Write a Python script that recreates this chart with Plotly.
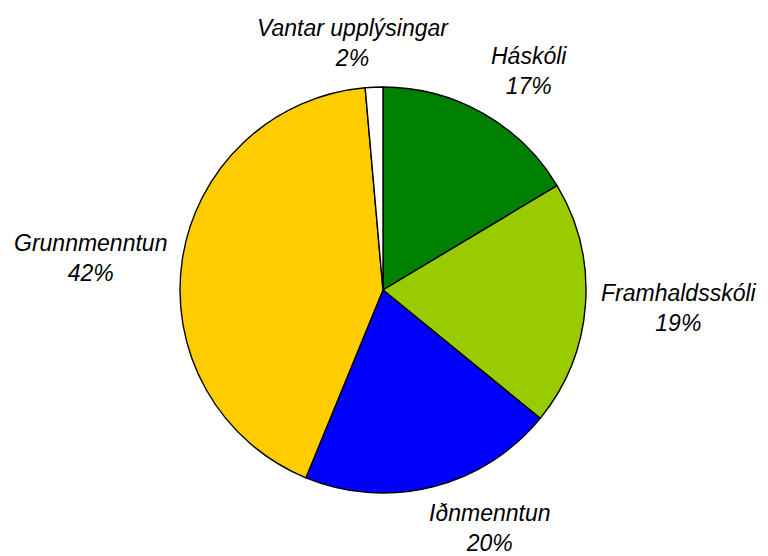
import math
import plotly.graph_objects as go

# Data
categories = ["Háskóli", "Framhaldsskóli", "Iðnmenntun", "Grunnmenntun", "Vantar upplýsingar"]
shares = [16.4, 19.5, 20.3, 42.4, 1.4]
pct_labels = ["17%", "19%", "20%", "42%", "2%"]

# Style
colors = ["#008000", "#99CC00", "#0000FF", "#FFCC00", "#FFFFFF"]
W, H = 768, 556
cx, cy, R = 383, 290, 203  # pie centre / radius in pixels
# label offsets (pixels, screen) from the slice's mid-angle point on the rim
label_offsets = [(46, -42), (94, 3), (57, 41), (-92, -2), (-21, -44)]
font_family = "Liberation Sans, Arial, sans-serif"
font_size = 23

fig = go.Figure(go.Pie(
    labels=categories,
    values=shares,
    sort=False,
    direction="clockwise",
    rotation=0,
    marker=dict(colors=colors, line=dict(color="#000000", width=1.4)),
    textinfo="none",
    hoverinfo="label+percent",
    showlegend=False,
    domain=dict(x=[(cx - R) / W, (cx + R) / W], y=[1 - (cy + R) / H, 1 - (cy - R) / H]),
))

total = sum(shares)
cum = 0.0
annotations = []
for name, val, pct, (ox, oy) in zip(categories, shares, pct_labels, label_offsets):
    mid = (cum + val / 2) / total * 2 * math.pi
    cum += val
    px = cx + R * math.sin(mid) + ox
    py = cy - R * math.cos(mid) + oy
    annotations.append(dict(
        x=px / W, y=1 - py / H, xref="paper", yref="paper",
        text=f"<i>{name}</i><br><i>{pct}</i>", showarrow=False,
        xanchor="center", yanchor="middle", align="center",
        font=dict(family=font_family, size=font_size, color="#000000"),
    ))

fig.update_layout(
    width=W, height=H,
    margin=dict(l=0, r=0, t=0, b=0),
    paper_bgcolor="white", plot_bgcolor="white",
    annotations=annotations,
    font=dict(family=font_family),
)

fig.write_html(
    "out.html",
    config={"displayModeBar": False},
    post_script="document.body.style.margin='0';document.body.style.padding='0';",
)
